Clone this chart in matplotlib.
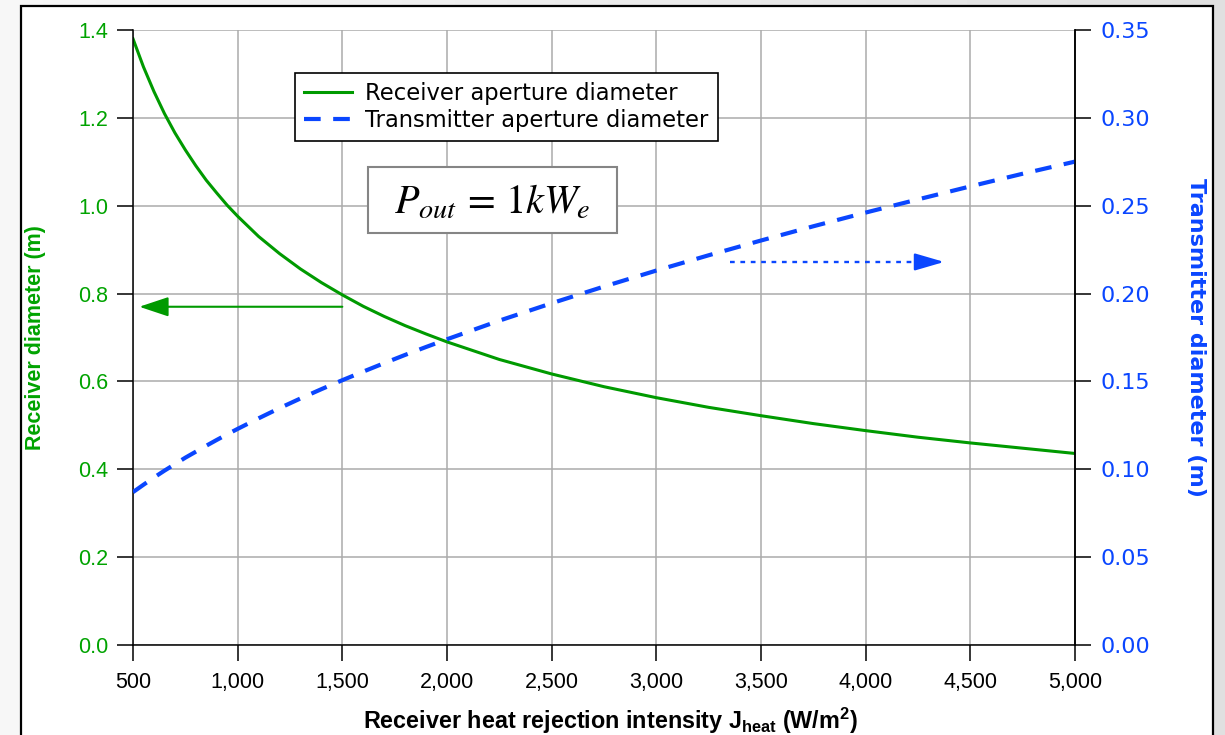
import numpy as np
import matplotlib.pyplot as plt
from matplotlib.patches import Rectangle
from matplotlib.ticker import FuncFormatter

plt.rcParams['font.family'] = ['Liberation Sans', 'DejaVu Sans']
plt.rcParams['mathtext.fontset'] = 'custom'
plt.rcParams['mathtext.rm'] = 'Liberation Sans:bold'
plt.rcParams['mathtext.bf'] = 'Liberation Sans:bold'

# heat rejection intensity J_heat (W/m^2)
j_heat = [500, 550, 600, 650, 700, 750, 800, 850, 900, 950, 1000, 1100, 1200, 1300,
          1400, 1500, 1600, 1700, 1800, 1900, 2000, 2250, 2500, 2750, 3000, 3250,
          3500, 3750, 4000, 4250, 4500, 4750, 5000]
# receiver aperture diameter (m), left axis
d_receiver = [1.380, 1.316, 1.260, 1.210, 1.166, 1.127, 1.091, 1.058, 1.029, 1.001,
              0.976, 0.930, 0.891, 0.856, 0.825, 0.797, 0.771, 0.748, 0.727, 0.708,
              0.690, 0.650, 0.617, 0.588, 0.563, 0.541, 0.522, 0.504, 0.488, 0.473,
              0.460, 0.448, 0.436]
# transmitter aperture diameter (m), right axis
d_transmitter = [0.0870, 0.0912, 0.0953, 0.0992, 0.1029, 0.1066, 0.1100, 0.1134, 0.1167,
                 0.1199, 0.1230, 0.1290, 0.1348, 0.1403, 0.1456, 0.1507, 0.1556, 0.1604,
                 0.1651, 0.1696, 0.1740, 0.1846, 0.1945, 0.2040, 0.2131, 0.2218, 0.2302,
                 0.2383, 0.2461, 0.2536, 0.2610, 0.2682, 0.2751]

x_ticks = np.arange(500, 5001, 500)
left_ticks = np.arange(0, 1.41, 0.2)
right_ticks = np.arange(0, 0.351, 0.05)

green = '#009a00'
green_txt = '#00a300'
blue = '#0a46ff'

fig = plt.figure(figsize=(12.25, 7.35), dpi=100)

# grey page behind a white framed panel
bg = fig.add_axes([0, 0, 1, 1], zorder=-10)
grad = np.linspace(0.968, 0.875, 256).reshape(1, -1)
bg.imshow(grad, cmap='gray', vmin=0, vmax=1, aspect='auto', extent=[0, 1, 0, 1])
bg.add_patch(Rectangle((21 / 1225, -0.02), (1213 - 21) / 1225, 1 - 6 / 735 + 0.02,
                       transform=bg.transAxes, facecolor='white', edgecolor='black', lw=1.6))
bg.set_xlim(0, 1)
bg.set_ylim(0, 1)
bg.axis('off')

ax = fig.add_axes([133 / 1225, 1 - 645 / 735, (1075 - 133) / 1225, (645 - 30) / 735])
ax.set_facecolor('white')
ax2 = ax.twinx()

line_r, = ax.plot(j_heat, d_receiver, color=green, lw=2.2, label='Receiver aperture diameter')
line_t, = ax2.plot(j_heat, d_transmitter, color=blue, lw=3, linestyle=(0, (4, 3)),
                   label='Transmitter aperture diameter')

ax.set_xlim(500, 5000)
ax.set_ylim(0, 1.4)
ax2.set_ylim(0, 0.35)
ax.set_xticks(x_ticks)
ax.set_yticks(left_ticks)
ax2.set_yticks(right_ticks)
ax.xaxis.set_major_formatter(FuncFormatter(lambda v, p: f'{v:,.0f}'))
ax.yaxis.set_major_formatter(FuncFormatter(lambda v, p: f'{v:.1f}'))
ax2.yaxis.set_major_formatter(FuncFormatter(lambda v, p: f'{v:.2f}'))

ax.grid(True, color='#ababab', lw=1.1)
ax.set_axisbelow(True)

for a in (ax, ax2):
    a.spines['top'].set_visible(False)
    for s in a.spines.values():
        s.set_linewidth(1.1)
ax2.spines['left'].set_visible(False)
ax2.spines['bottom'].set_visible(False)

ax.tick_params(axis='both', direction='out', length=11.5, width=1.1, color='black')
ax.tick_params(axis='x', labelsize=15.5, pad=8, labelcolor='black')
ax.tick_params(axis='y', labelsize=15.5, pad=6.5, labelcolor=green_txt)
ax2.tick_params(axis='y', direction='out', length=11.5, width=1.1, color='black',
                labelsize=16, pad=7, labelcolor=blue, labelfontfamily='DejaVu Sans')

ax.set_xlabel(r'Receiver heat rejection intensity J$_{\mathbf{heat}}$ (W/m$^{\mathbf{2}}$)',
              fontsize=16.8, fontweight='bold', labelpad=9)
ax.xaxis.label.set_x(0.507)
ax.set_ylabel('Receiver diameter (m)', fontsize=15.5, fontweight='bold', color=green_txt,
              labelpad=23)
ax2.set_ylabel('Transmitter diameter (m)', fontsize=16, fontweight='bold', color=blue,
               family='DejaVu Sans', rotation=-90, labelpad=40)

leg = ax2.legend(handles=[line_r, line_t], loc='upper left', bbox_to_anchor=(0.172, 0.930),
                 borderaxespad=0, fancybox=False, framealpha=1, edgecolor='black',
                 prop={'family': 'DejaVu Sans', 'size': 16.3}, handlelength=2.1,
                 handletextpad=0.6, labelspacing=0.15, borderpad=0.4)
leg.get_frame().set_linewidth(1.2)

# output power box
ax2.add_patch(Rectangle((0.2495, 0.6699), 0.2643, 0.1073, transform=ax2.transAxes,
                        facecolor='white', edgecolor='#858585', lw=1.5, zorder=4))
ax2.text(0.3816, 0.7200, r'$P_{out}\,=\,1kW_e$', transform=ax2.transAxes, fontsize=29,
         math_fontfamily='stix', ha='center', va='center', zorder=5)

# arrows pointing each curve to its axis
ax.annotate('', xy=(530, 0.77), xytext=(1500, 0.77),
            arrowprops=dict(arrowstyle='-|>,head_length=1.2,head_width=0.4', mutation_scale=15,
                            color=green, lw=1.5, shrinkA=0, shrinkB=0))
ax2.plot([3350, 4270], [0.218, 0.218], color=blue, lw=1.7, linestyle=(0, (2, 2.4)))
ax2.annotate('', xy=(4375, 0.218), xytext=(4250, 0.218),
             arrowprops=dict(arrowstyle='-|>,head_length=1.2,head_width=0.35', mutation_scale=15,
                             color=blue, lw=1.7, shrinkA=0, shrinkB=0))

fig.savefig('out.png', dpi=100)
